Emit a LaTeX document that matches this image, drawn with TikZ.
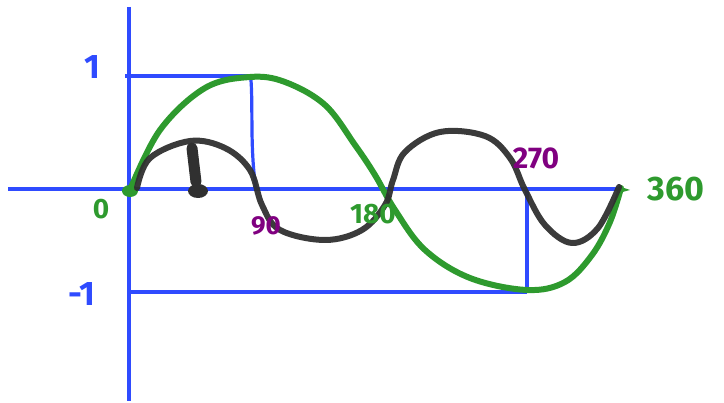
\documentclass[tikz,border=0pt]{standalone}
\usepackage{fontspec}
\setmainfont{Fira Sans}
\definecolor{pblue}{HTML}{2F4BFF}
\definecolor{pgreen}{HTML}{2E9A2E}
\definecolor{pblack}{HTML}{303030}
\definecolor{ppurple}{HTML}{800080}
\begin{document}
\begin{tikzpicture}[x=1pt,y=-1pt,
  axis/.style={pblue,line width=3.2pt},
  gcurve/.style={pgreen,line width=6pt,line cap=round,line join=round},
  kcurve/.style={pblack,opacity=0.95,line width=6pt,line cap=round,line join=round},
  lab/.style={font=\bfseries\fontsize{34}{34}\selectfont,inner sep=0pt}]
\useasboundingbox (0,0) rectangle (724,403);
% axes
\coordinate (vt) at (129,7); \coordinate (vb) at (129,401);
\coordinate (hl) at (8,189); \coordinate (hr) at (622,189);
\draw[axis] (vt) -- (vb);
\draw[axis] (hl) -- (hr);
\coordinate (t1) at (125,76); \coordinate (t2) at (251,76);
\draw[axis] (t1) -- (t2);
\coordinate (w1) at (251,80); \coordinate (w2) at (256,189);
\draw[axis] (w1) .. controls (253,110) and (250,150) .. (w2);
\coordinate (b1) at (131,292); \coordinate (b2) at (527,292);
\draw[axis] (b1) -- (b2);
\coordinate (r1) at (527,189);
\draw[axis] (r1) -- (b2);
% green curve
\draw[gcurve] plot[smooth,tension=0.6] coordinates {(130,190) (160,130) (205,88) (250,77) (285,82) (325,105) (355,145) (375,175) (395,210) (425,250) (470,278) (527,290) (565,282) (592,255) (610,222) (621,188)};
\fill[pgreen] (130,191) ellipse (8pt and 6pt);
\fill[pgreen] (621,187) -- (630,190) -- (619,193) -- cycle;
% black curve
\draw[kcurve] plot[smooth,tension=0.6] coordinates {(137,188) (150,158) (190,141) (225,148) (250,170) (262,205) (280,230) (325,240) (362,230) (385,205) (393,180) (405,152) (440,132) (485,136) (510,158) (525,190) (545,225) (572,243) (598,228) (619,187)};
\draw[pblack,line width=11pt,line cap=round] (192,148) -- (196,182);
\fill[pblack] (198,191) ellipse (10pt and 7pt);
% labels
\node[lab,pblue] (l1) at (92,67) {1};
\node[lab,pblue] (lm1) at (82,294) {-1};
\node[lab,pgreen,font=\bfseries\fontsize{28}{28}\selectfont] (l0) at (101,209) {0};
\node[lab,ppurple,font=\bfseries\fontsize{26}{26}\selectfont] (l90) at (266,226) {90};
\node[lab,pgreen,font=\bfseries\fontsize{28}{28}\selectfont] (l180) at (373,214) {180};
\node[lab,ppurple,font=\bfseries\fontsize{30}{30}\selectfont] (l270) at (536,158) {270};
\node[lab,pgreen] (l360) at (676,189) {360};
\end{tikzpicture}
\end{document}
